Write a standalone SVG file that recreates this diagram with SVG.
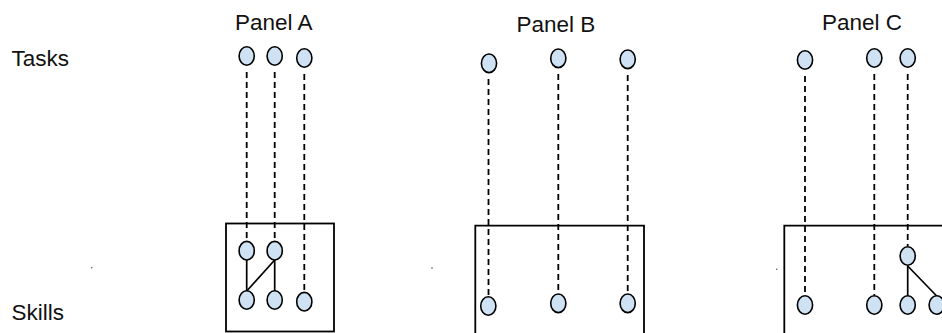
<svg xmlns="http://www.w3.org/2000/svg" width="942" height="333" viewBox="0 0 942 333">
<style>
.lbl{font-family:"Liberation Sans",Arial,sans-serif;font-size:22.5px;fill:#111}
.n{fill:#cfe2f3;stroke:#000;stroke-width:1.6}
.box{fill:none;stroke:#000;stroke-width:1.8}
.dash{stroke:#000;stroke-width:1.8;stroke-dasharray:6 4;fill:none}
.solid{stroke:#000;stroke-width:1.7;fill:none}
.dot{fill:#555}
</style>
<rect width="942" height="333" fill="#fff"/>
<g id="labels">
<text class="lbl" x="11.5" y="65.5">Tasks</text>
<text class="lbl" x="11.5" y="320">Skills</text>
<text class="lbl" x="235" y="30">Panel A</text>
<text class="lbl" x="516.5" y="32.3">Panel B</text>
<text class="lbl" x="822" y="29.5">Panel C</text>
</g>
<g id="dots">
<circle class="dot" cx="91.7" cy="267.7" r="0.8"/>
<circle class="dot" cx="432" cy="268" r="0.8"/>
<circle class="dot" cx="776.7" cy="269.3" r="0.8"/>
</g>
<g id="boxes">
<rect id="boxA" class="box" x="226" y="223.5" width="108" height="108"/>
<path id="boxB" class="box" d="M475.3,340 V225.7 H644 V340"/>
<path id="boxC" class="box" d="M784.3,340 V225.7 H950"/>
</g>
<g id="connectors">
<line class="dash" x1="246.7" y1="72" x2="246.7" y2="241"/>
<line class="dash" x1="274.7" y1="72" x2="274.7" y2="241"/>
<line class="dash" x1="304.3" y1="74" x2="304.3" y2="292"/>
<line class="solid" x1="246.7" y1="260" x2="246.7" y2="291"/>
<line class="solid" x1="274.7" y1="260" x2="246.7" y2="291"/>
<line class="solid" x1="274.7" y1="260" x2="274.7" y2="291"/>
<line class="dash" x1="488.5" y1="79" x2="488.5" y2="296"/>
<line class="dash" x1="558.3" y1="74" x2="558.3" y2="294"/>
<line class="dash" x1="627.7" y1="75" x2="627.7" y2="294"/>
<line class="dash" x1="805" y1="76" x2="805" y2="295"/>
<line class="dash" x1="874.3" y1="74" x2="874.3" y2="295"/>
<line class="dash" x1="907.7" y1="74" x2="907.7" y2="246"/>
<line class="solid" x1="907.7" y1="266" x2="907.7" y2="296"/>
<line class="solid" x1="907.7" y1="266" x2="936.7" y2="296"/>
</g>
<g id="panelA">
<ellipse id="a-t1" class="n" cx="246.7" cy="56" rx="7.6" ry="9.3"/>
<ellipse id="a-t2" class="n" cx="274.7" cy="56" rx="7.6" ry="9.3"/>
<ellipse id="a-t3" class="n" cx="304.3" cy="58" rx="7.6" ry="9.3"/>
<ellipse id="a-s1" class="n" cx="246.7" cy="250.7" rx="7.6" ry="9.3"/>
<ellipse id="a-s2" class="n" cx="274.7" cy="250.7" rx="7.6" ry="9.3"/>
<ellipse id="a-s3" class="n" cx="246.7" cy="300" rx="7.6" ry="9.3"/>
<ellipse id="a-s4" class="n" cx="274.7" cy="300" rx="7.6" ry="9.3"/>
<ellipse id="a-s5" class="n" cx="304.3" cy="301.7" rx="7.6" ry="9.3"/>
</g>
<g id="panelB">
<ellipse id="b-t1" class="n" cx="489" cy="63.3" rx="7.6" ry="9.3"/>
<ellipse id="b-t2" class="n" cx="558.3" cy="58.3" rx="7.6" ry="9.3"/>
<ellipse id="b-t3" class="n" cx="627.7" cy="59.3" rx="7.6" ry="9.3"/>
<ellipse id="b-s1" class="n" cx="488.3" cy="306" rx="7.6" ry="9.3"/>
<ellipse id="b-s2" class="n" cx="558.3" cy="303.3" rx="7.6" ry="9.3"/>
<ellipse id="b-s3" class="n" cx="627.7" cy="303.3" rx="7.6" ry="9.3"/>
</g>
<g id="panelC">
<ellipse id="c-t1" class="n" cx="805" cy="60" rx="7.6" ry="9.3"/>
<ellipse id="c-t2" class="n" cx="874.3" cy="58" rx="7.6" ry="9.3"/>
<ellipse id="c-t3" class="n" cx="907.7" cy="58" rx="7.6" ry="9.3"/>
<ellipse id="c-s0" class="n" cx="907.7" cy="256" rx="7.6" ry="9.3"/>
<ellipse id="c-s1" class="n" cx="805" cy="305" rx="7.6" ry="9.3"/>
<ellipse id="c-s2" class="n" cx="874.3" cy="305" rx="7.6" ry="9.3"/>
<ellipse id="c-s3" class="n" cx="907.7" cy="305" rx="7.6" ry="9.3"/>
<ellipse id="c-s4" class="n" cx="936.7" cy="305" rx="7.6" ry="9.3"/>
</g>
</svg>
